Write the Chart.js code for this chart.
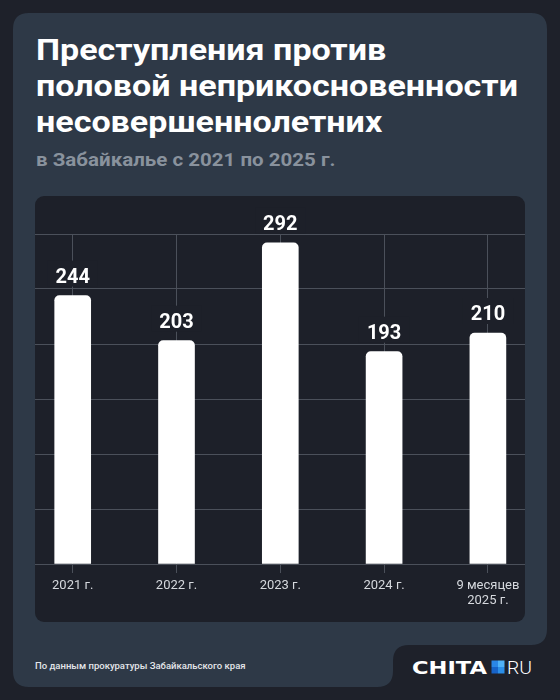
<!DOCTYPE html>
<html>
<head>
<meta charset="utf-8">
<script src="https://cdn.jsdelivr.net/npm/chart.js@4.4.1/dist/chart.umd.min.js"></script>
<style>
body { margin: 0; width: 560px; height: 700px; background: #1e212a; position: relative; overflow: hidden; font-family: Roboto, sans-serif; }
.bg { position: absolute; left: 0; top: 0; }
.title { position: absolute; left: 36px; top: 32px; color: #fff; font-weight: bold; font-size: 30px; line-height: 36px; white-space: nowrap; transform: scaleX(1.135); transform-origin: 0 0; }
.sub { position: absolute; left: 36px; top: 149px; color: #89929d; font-weight: bold; font-size: 18px; line-height: 22px; white-space: nowrap; transform: scaleX(1.14); transform-origin: 0 0; }
.panel { position: absolute; left: 35px; top: 196px; width: 490px; height: 426px; background: #1d2029; border-radius: 9px; overflow: hidden; }
.panel canvas { position: absolute; left: -35px; top: 0; }
.source { position: absolute; left: 35px; top: 660px; color: #e4e6ea; font-size: 9.5px; font-weight: 500; line-height: 12px; white-space: nowrap; }
</style>
</head>
<body>
<svg class="bg" width="560" height="700">
  <path fill="#2e3947" d="M29 13 H531 Q547 13 547 29 V629 Q547 645 531 645 H409 Q393 645 393 661 V671 Q393 687 377 687 H29 Q13 687 13 671 V29 Q13 13 29 13 Z"/>
  <text x="412" y="673.5" font-family="DejaVu Sans" font-weight="bold" font-size="17" textLength="75" lengthAdjust="spacingAndGlyphs" fill="#fff">CHITA</text>
  <rect x="491.5" y="660.5" width="6.5" height="6.5" fill="#2a86e6"/>
  <rect x="498" y="660.5" width="6.5" height="6.5" fill="#4fb2f7"/>
  <rect x="491.5" y="667" width="6.5" height="6.5" fill="#1763c8"/>
  <rect x="498" y="667" width="6.5" height="6.5" fill="#2b8fe8"/>
  <text x="507" y="673.5" font-family="Roboto" font-weight="300" font-size="17.5" textLength="25" lengthAdjust="spacingAndGlyphs" fill="#fff">RU</text>
</svg>
<div class="title">Преступления против<br>половой неприкосновенности<br>несовершеннолетних</div>
<div class="sub">в Забайкалье с 2021 по 2025 г.</div>
<div class="panel"><canvas id="chart" width="560" height="426"></canvas></div>
<div class="source">По данным прокуратуры Забайкальского края</div>
<script>
const years = ['2021 г.', '2022 г.', '2023 г.', '2024 г.', ['9 месяцев', '2025 г.']]
const cases = [244, 203, 292, 193, 210]
const yTicks = { min: 0, max: 300, step: 50 }

const panelColor = '#1d2029'
const gridColor = '#4b505a'

// value above each bar, on a small patch of panel colour so grid lines stop at it
const valueLabels = {
    id: 'valueLabels',
    afterDatasetsDraw(chart) {
        const ctx = chart.ctx
        chart.getDatasetMeta(0).data.forEach((bar, i) => {
            const txt = String(cases[i])
            const y = bar.y - 20
            ctx.save()
            ctx.font = 'bold 20px Roboto'
            const w = ctx.measureText(txt).width
            ctx.fillStyle = panelColor
            ctx.fillRect(bar.x - w / 2 - 8, y - 15, w + 16, 26)
            ctx.fillStyle = '#ffffff'
            ctx.textAlign = 'center'
            ctx.textBaseline = 'alphabetic'
            ctx.fillText(txt, bar.x, y + 7)
            ctx.restore()
        })
    }
}

new Chart(document.getElementById('chart').getContext('2d'), {
    type: 'bar',
    data: {
        labels: years,
        datasets: [{
            data: cases,
            backgroundColor: '#ffffff',
            barThickness: 36,
            borderRadius: { topLeft: 5, topRight: 5 },
            borderSkipped: 'bottom'
        }]
    },
    options: {
        responsive: false,
        animation: false,
        layout: { padding: { left: 20.8, right: 20.2, top: 38, bottom: 0 } },
        plugins: { legend: { display: false }, tooltip: { enabled: false } },
        scales: {
            x: {
                grid: { color: gridColor, offset: false, tickLength: 9, tickColor: gridColor },
                border: { color: gridColor },
                ticks: {
                    color: '#d6d9de',
                    font: { family: 'Roboto', size: 13, lineHeight: 1.1 },
                    padding: 6,
                    maxRotation: 0,
                    autoSkip: false
                },
                afterFit: s => { s.height = 58 }
            },
            y: {
                min: yTicks.min,
                max: yTicks.max,
                ticks: { stepSize: yTicks.step, display: false },
                grid: { color: gridColor, drawTicks: false },
                border: { display: false },
                afterFit: s => { s.width = 0 }
            }
        }
    },
    plugins: [valueLabels]
})
</script>
</body>
</html>
